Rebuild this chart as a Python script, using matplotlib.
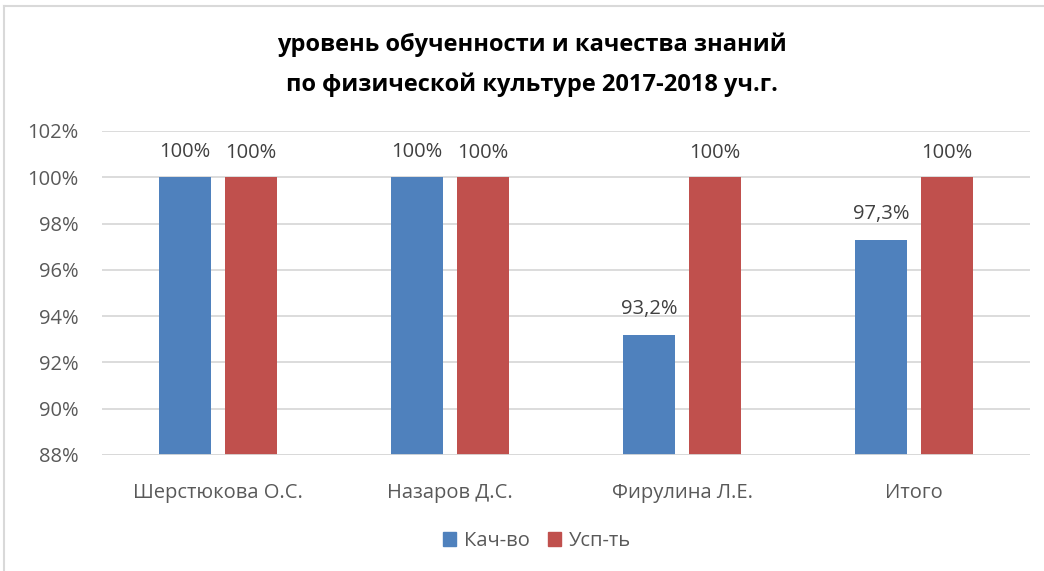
import matplotlib.pyplot as plt
import numpy as np
from matplotlib.patches import Rectangle
from matplotlib.lines import Line2D

plt.rcParams['font.family'] = ['Open Sans', 'DejaVu Sans']

teachers = ["Шерстюкова О.С.", "Назаров Д.С.", "Фирулина Л.Е.", "Итого"]
quality = [100, 100, 93.2, 97.3]
success = [100, 100, 100, 100]
quality_labels = ["100%", "100%", "93,2%", "97,3%"]
success_labels = ["100%", "100%", "100%", "100%"]
yticks = [88, 90, 92, 94, 96, 98, 100, 102]

blue = "#4f81bd"
red = "#c0504d"
grey_text = "#595959"
grid = "#d9d9d9"

fig = plt.figure(figsize=(10.44, 5.71), dpi=100)
ax = fig.add_axes([102 / 1044, 1 - 455 / 571, 928 / 1044, 324 / 571])

x = np.arange(len(teachers))
w = 0.224
off = 0.142
ax.bar(x - off, [q - 88 for q in quality], w, bottom=88, color=blue, label="Кач-во", zorder=3)
ax.bar(x + off, [s - 88 for s in success], w, bottom=88, color=red, label="Усп-ть", zorder=3)

for i in range(len(teachers)):
    ax.text(x[i] - off, quality[i] + 1.1, quality_labels[i], ha="center", va="center",
            fontsize=14.5, color="#404040")
    ax.text(x[i] + off, success[i] + 1.05, success_labels[i], ha="center", va="center",
            fontsize=14.5, color="#404040")

ax.set_xlim(-0.5, len(teachers) - 0.5)
ax.set_ylim(88, 102)
ax.set_yticks(yticks)
ax.set_yticklabels([f"{t}%" for t in yticks], fontsize=14.5, color=grey_text)
ax.set_xticks(x)
ax.set_xticklabels(teachers, fontsize=14.5, color=grey_text)
ax.tick_params(axis="both", length=0)
ax.tick_params(axis="x", pad=20)
ax.tick_params(axis="y", pad=17)
ax.grid(axis="y", color=grid, linewidth=1.3, zorder=0)
for s in ax.spines.values():
    s.set_visible(False)
ax.axhline(88, color=grid, linewidth=2, zorder=4)

fig.text(532 / 1044, 1 - 45 / 571, "уровень обученности и качества знаний",
         ha="center", va="center", fontsize=17, fontweight="bold", color="black")
fig.text(532 / 1044, 1 - 85 / 571, "по физической культуре 2017-2018 уч.г.",
         ha="center", va="center", fontsize=17, fontweight="bold", color="black")

handles = [Rectangle((0, 0), 1, 1, color=blue), Rectangle((0, 0), 1, 1, color=red)]
fig.legend(handles, ["Кач-во", "Усп-ть"], loc="center", bbox_to_anchor=(537 / 1044, 1 - 541 / 571),
           ncol=2, frameon=False, fontsize=14.5, handlelength=0.65, handleheight=0.65,
           handletextpad=0.4, columnspacing=0.9, labelcolor=grey_text)

# chart frame (cut by the page edge)
fig.add_artist(Line2D([4 / 1044, 4 / 1044], [0, 1 - 6 / 571], color=grid, linewidth=1.5,
                      transform=fig.transFigure))
fig.add_artist(Line2D([4 / 1044, 1], [1 - 6 / 571, 1 - 6 / 571], color=grid, linewidth=1.5,
                      transform=fig.transFigure))

fig.savefig("out.png", dpi=100, facecolor="white")
